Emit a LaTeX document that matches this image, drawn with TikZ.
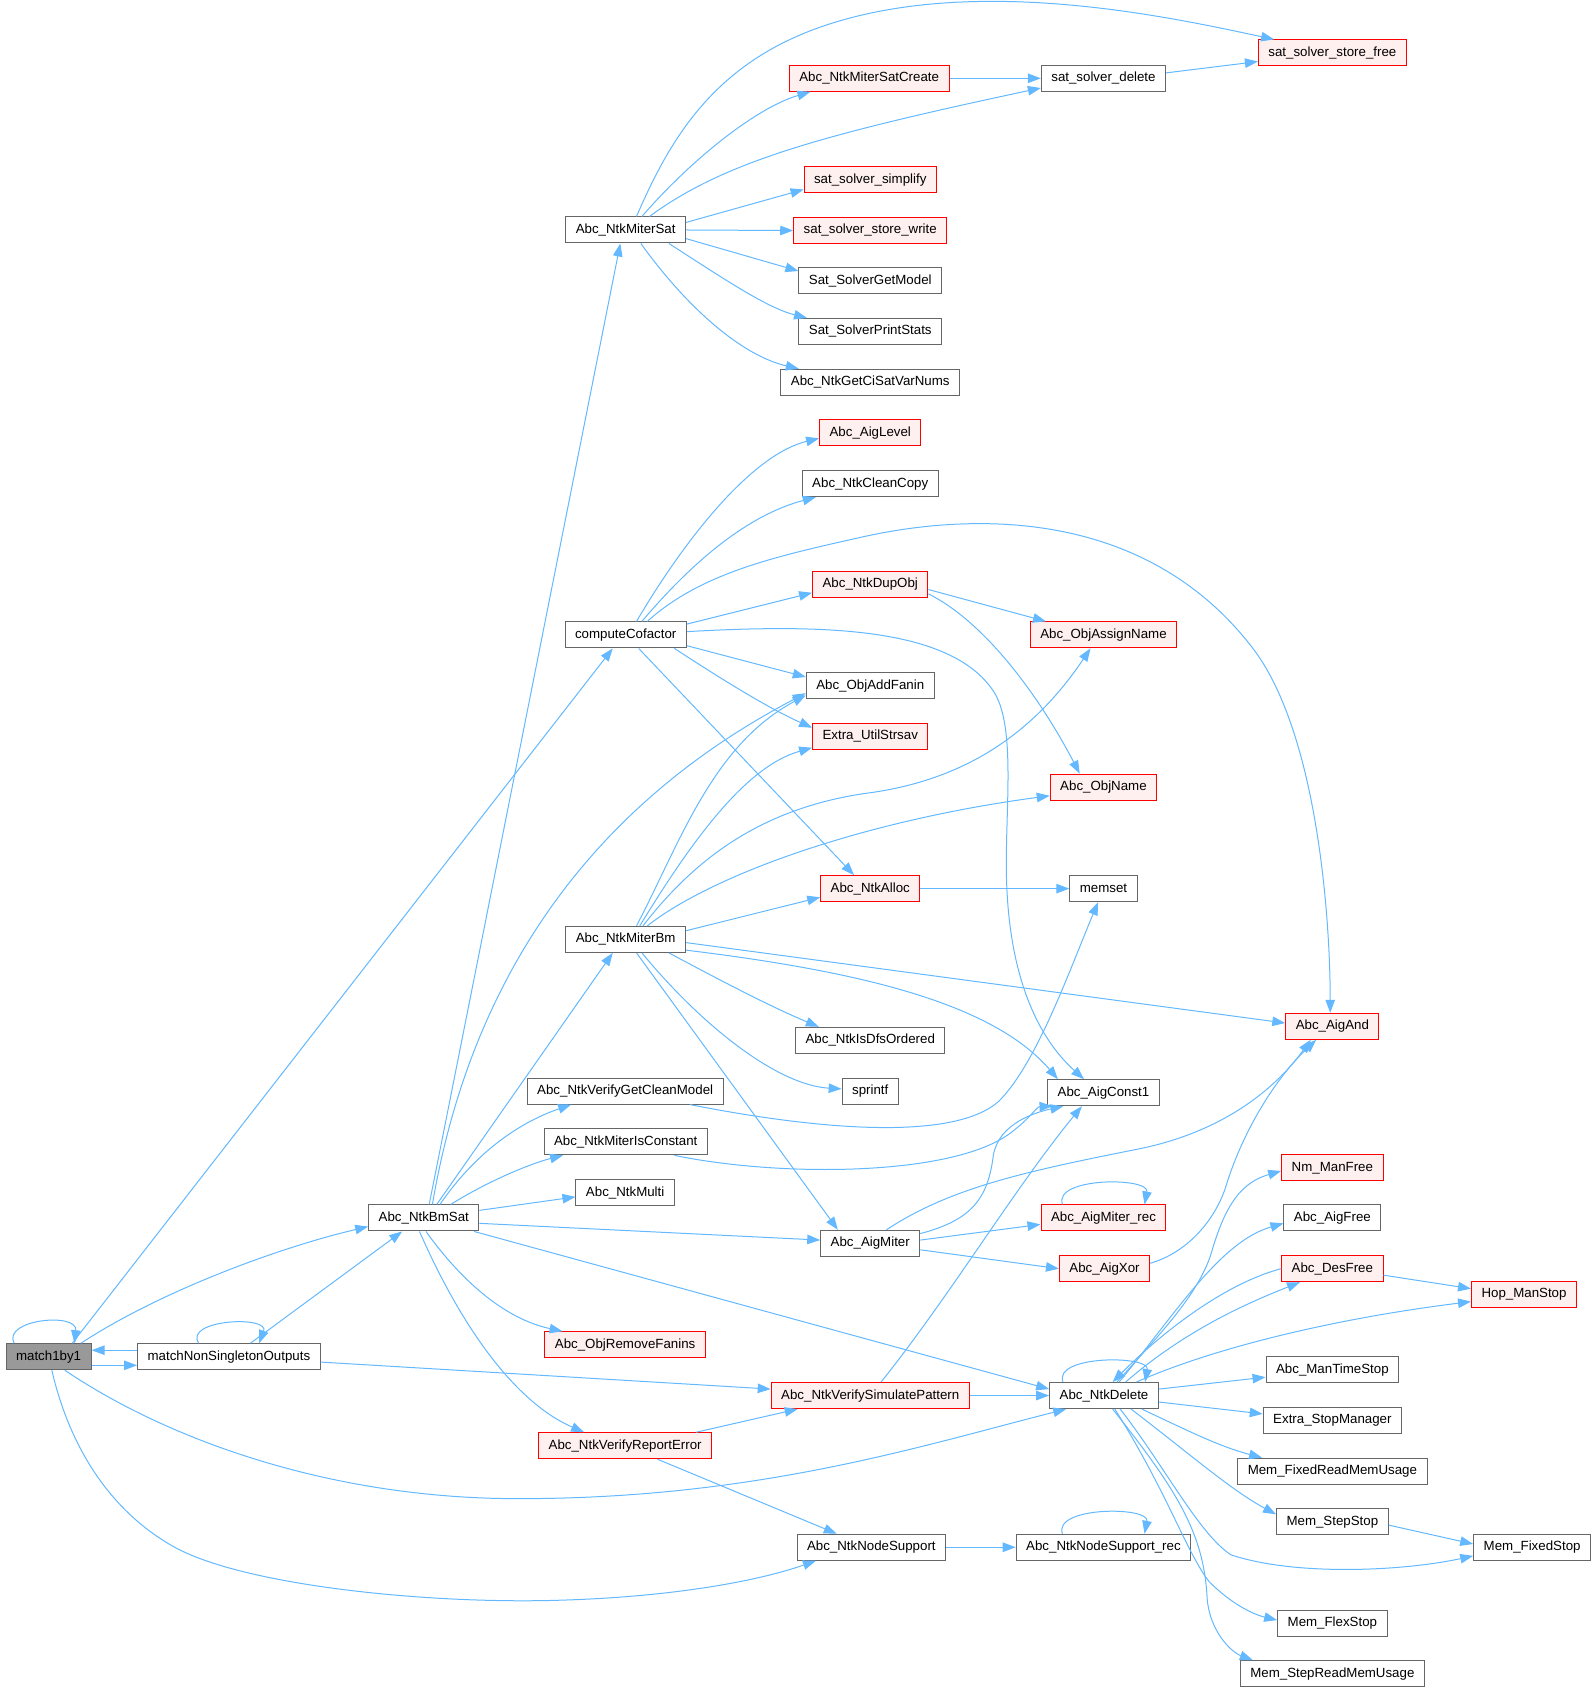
\documentclass[tikz,border=0pt]{standalone}
\usepackage{fontspec}
\setmainfont{Liberation Sans}
\usetikzlibrary{arrows.meta,calc}
\definecolor{edgeblue}{HTML}{63B8FF}
\definecolor{boxgray}{HTML}{666666}
\definecolor{redfill}{HTML}{FFF0F0}
\definecolor{selgray}{HTML}{999999}
\begin{document}
\begin{tikzpicture}[x=1.0798pt,y=-1.0798pt,
 gbox/.style={draw=boxgray, fill=white, line width=1pt, minimum height=26pt, inner xsep=10pt, inner ysep=0pt, text height=9.7pt, text depth=2.8pt, font=\fontsize{13.3}{16}\selectfont},
 rbox/.style={gbox, draw=red, fill=redfill},
 hbox/.style={gbox, fill=selgray},
 link/.style={draw=edgeblue, line width=1pt, -{Triangle[length=13pt,width=9.5pt]}},
]
\useasboundingbox (0,0) rectangle (1478,1568);
% nodes
\node[hbox] (m1) at (45,1256.5) {match1by1};
\node[gbox] (mns) at (212,1256.5) {matchNonSingletonOutputs};
\node[gbox] (bms) at (392.5,1128) {Abc\_NtkBmSat};
\node[gbox] (ms) at (579.5,213) {Abc\_NtkMiterSat};
\node[gbox] (cc) at (579.5,588) {computeCofactor};
\node[gbox] (mbm) at (579.5,870) {Abc\_NtkMiterBm};
\node[gbox] (vgcm) at (579,1010.5) {Abc\_NtkVerifyGetCleanModel};
\node[gbox] (mic) at (579.5,1057.5) {Abc\_NtkMiterIsConstant};
\node[gbox] (mul) at (579,1104.5) {Abc\_NtkMulti};
\node[rbox] (orf) at (579,1245.5) {Abc\_ObjRemoveFanins};
\node[rbox] (vre) at (579,1339) {Abc\_NtkVerifyReportError};
\node[rbox] (msc) at (805,72.5) {Abc\_NtkMiterSatCreate};
\node[rbox] (sss) at (806,166.5) {sat\_solver\_simplify};
\node[rbox] (ssw) at (806,213.5) {sat\_solver\_store\_write};
\node[gbox] (sgm) at (806,260) {Sat\_SolverGetModel};
\node[gbox] (sps) at (806,307) {Sat\_SolverPrintStats};
\node[gbox] (gcs) at (806,354) {Abc\_NtkGetCiSatVarNums};
\node[rbox] (al) at (806,401) {Abc\_AigLevel};
\node[gbox] (ncc) at (806,448) {Abc\_NtkCleanCopy};
\node[rbox] (ndo) at (806,541) {Abc\_NtkDupObj};
\node[gbox] (oaf) at (806,635) {Abc\_ObjAddFanin};
\node[rbox] (eus) at (806,682) {Extra\_UtilStrsav};
\node[rbox] (na) at (806,823) {Abc\_NtkAlloc};
\node[gbox] (ido) at (806,963.5) {Abc\_NtkIsDfsOrdered};
\node[gbox] (spr) at (806,1010.5) {sprintf};
\node[gbox] (am) at (806,1151.5) {Abc\_AigMiter};
\node[rbox] (vsp) at (806,1292.5) {Abc\_NtkVerifySimulatePattern};
\node[gbox] (ns) at (807,1433) {Abc\_NtkNodeSupport};
\node[gbox] (ssd) at (1022,72.5) {sat\_solver\_delete};
\node[rbox] (oan) at (1022,588) {Abc\_ObjAssignName};
\node[rbox] (on) at (1022,729) {Abc\_ObjName};
\node[gbox] (mem) at (1022,823) {memset};
\node[gbox] (ac1) at (1022,1012) {Abc\_AigConst1};
\node[rbox] (amr) at (1022,1128) {Abc\_AigMiter\_rec};
\node[rbox] (ax) at (1023,1175) {Abc\_AigXor};
\node[gbox] (nd) at (1022.5,1292.5) {Abc\_NtkDelete};
\node[gbox] (nsr) at (1022,1433) {Abc\_NtkNodeSupport\_rec};
\node[rbox] (ssf) at (1234,49) {sat\_solver\_store\_free};
\node[rbox] (aa) at (1234,950.5) {Abc\_AigAnd};
\node[rbox] (nmf) at (1234,1081.5) {Nm\_ManFree};
\node[gbox] (af) at (1234,1128) {Abc\_AigFree};
\node[rbox] (df) at (1234,1175) {Abc\_DesFree};
\node[gbox] (mts) at (1234,1268.5) {Abc\_ManTimeStop};
\node[gbox] (esm) at (1234,1315.5) {Extra\_StopManager};
\node[gbox] (mfr) at (1234,1362.5) {Mem\_FixedReadMemUsage};
\node[gbox] (mss) at (1234,1409.5) {Mem\_StepStop};
\node[gbox] (mfl) at (1234,1503.5) {Mem\_FlexStop};
\node[gbox] (msr) at (1234,1550) {Mem\_StepReadMemUsage};
\node[rbox] (hms) at (1411.5,1198.5) {Hop\_ManStop};
\node[gbox] (mfs) at (1419,1433) {Mem\_FixedStop};
% match1by1
\draw[link] ($(m1.north)+(-32,0)$) .. controls (2,1222) and (72,1215) .. ($(m1.north)+(24,0)$);
\draw[link] ($(mns.west)+(0,-6)$) -- ($(m1.east)+(0,-6)$);
\draw[link] ($(m1.east)+(0,8)$) -- ($(mns.west)+(0,8)$);
\draw[link] ($(m1.north)+(22,0)$) -- ($(cc.south)+(-12,0)$);
\draw[link] ($(m1.north)+(30,0)$) .. controls (150,1195) and (260,1155) .. ($(bms.west)+(0,8)$);
\draw[link] ($(m1.south)+(15,0)$) .. controls (150,1330) and (300,1388) .. (480,1388) .. controls (700,1388) and (850,1340) .. ($(nd.south)+(-35,0)$);
\draw[link] ($(m1.south)+(3,0)$) .. controls (62,1330) and (95,1395) .. (160,1432) .. controls (225,1469) and (400,1486) .. (520,1482) .. controls (620,1479) and (700,1465) .. ($(ns.south west)+(18,0)$);
% matchNonSingletonOutputs
\draw[link] ($(mns.north)+(-28,0)$) .. controls (170,1222) and (250,1218) .. ($(mns.north)+(28,0)$);
\draw[link] ($(mns.north)+(20,0)$) -- ($(bms.south)+(-20,0)$);
\draw[link] ($(mns.east)+(0,5)$) -- ($(vsp.west)+(0,-6)$);
% Abc_NtkBmSat
\draw[link] ($(bms.north)+(5,0)$) -- ($(ms.south)+(-5,0)$);
\draw[link] ($(bms.north)+(8,0)$) .. controls (430,940) and (520,760) .. ($(oaf.west)+(0,7)$);
\draw[link] ($(bms.north)+(12,0)$) -- ($(mbm.south)+(-12,0)$);
\draw[link] ($(bms.north)+(15,0)$) .. controls (440,1068) and (480,1040) .. ($(vgcm.south)+(-50,0)$);
\draw[link] ($(bms.north)+(25,0)$) .. controls (450,1095) and (490,1078) .. ($(mic.south)+(-58,0)$);
\draw[link] ($(bms.east)+(0,-7)$) -- ($(mul.west)+(0,4)$);
\draw[link] ($(bms.east)+(0,5)$) -- ($(am.west)+(0,-3)$);
\draw[link] ($(bms.south east)+(-5,0)$) -- ($(nd.west)+(0,-6)$);
\draw[link] ($(bms.south)+(2,0)$) .. controls (430,1190) and (470,1222) .. ($(orf.north)+(-58,0)$);
\draw[link] ($(bms.south)+(-4,0)$) .. controls (430,1235) and (480,1300) .. ($(vre.north)+(-38,0)$);
% Abc_NtkMiterSat
\draw[link] ($(ms.north)+(10,0)$) .. controls (620,130) and (660,60) .. (760,25) .. controls (900,-24) and (1080,15) .. ($(ssf.north west)+(15,0)$);
\draw[link] ($(ms.north)+(15,0)$) .. controls (640,148) and (700,100) .. ($(msc.south west)+(20,0)$);
\draw[link] ($(ms.north)+(22,0)$) .. controls (670,150) and (760,125) .. ($(ssd.west)+(0,9)$);
\draw[link] ($(ms.east)+(0,-7)$) -- ($(sss.west)+(0,9)$);
\draw[link] (ms.east) -- (ssw.west);
\draw[link] ($(ms.east)+(0,8)$) -- ($(sgm.west)+(0,-9)$);
\draw[link] ($(ms.south)+(40,0)$) .. controls (670,258) and (710,285) .. ($(sps.north west)+(8,0)$);
\draw[link] ($(ms.south)+(14,0)$) .. controls (640,290) and (690,330) .. ($(gcs.north west)+(17,0)$);
\draw[link] (msc.east) -- (ssd.west);
\draw[link] ($(ssd.east)+(0,-5)$) -- ($(ssf.west)+(0,8)$);
% computeCofactor
\draw[link] ($(cc.north)+(10,0)$) .. controls (640,490) and (700,420) .. ($(al.west)+(0,5)$);
\draw[link] ($(cc.north)+(15,0)$) .. controls (650,510) and (700,475) .. ($(ncc.south west)+(13,0)$);
\draw[link] ($(cc.north)+(20,0)$) .. controls (650,530) and (720,515) .. (800,497) .. controls (900,475) and (1060,470) .. (1160,600) .. controls (1220,678) and (1232,850) .. ($(aa.north)+(-2,0)$);
\draw[link] ($(cc.east)+(0,-10)$) -- ($(ndo.west)+(0,8)$);
\draw[link] ($(cc.east)+(0,-3)$) .. controls (760,578) and (880,580) .. (920,640) .. controls (940,670) and (932,740) .. (932,800) .. controls (932,900) and (960,960) .. ($(ac1.north)+(-18,0)$);
\draw[link] ($(cc.east)+(0,10)$) -- ($(oaf.west)+(0,-8)$);
\draw[link] ($(cc.south)+(45,0)$) .. controls (670,630) and (710,655) .. ($(eus.west)+(0,-8)$);
\draw[link] ($(cc.south)+(12,0)$) -- ($(na.north)+(-15,0)$);
% DupObj, Alloc
\draw[link] ($(ndo.east)+(0,5)$) -- ($(oan.north west)+(15,0)$);
\draw[link] ($(ndo.east)+(0,9)$) .. controls (910,575) and (960,640) .. ($(on.north)+(-22,0)$);
\draw[link] (na.east) -- (mem.west);
% Abc_NtkMiterBm
\draw[link] ($(mbm.north)+(10,0)$) .. controls (630,780) and (660,690) .. ($(oaf.west)+(0,9)$);
\draw[link] ($(mbm.north)+(13,0)$) .. controls (640,780) and (690,710) .. ($(eus.south west)+(0,-2)$);
\draw[link] ($(mbm.north)+(16,0)$) .. controls (640,800) and (700,750) .. (800,735) .. controls (880,725) and (950,690) .. ($(oan.south)+(-12,0)$);
\draw[link] ($(mbm.north)+(20,0)$) .. controls (660,810) and (800,760) .. ($(on.west)+(0,8)$);
\draw[link] ($(mbm.east)+(0,-8)$) -- ($(na.west)+(0,8)$);
\draw[link] ($(mbm.east)+(0,3)$) -- ($(aa.west)+(0,-3)$);
\draw[link] ($(mbm.east)+(0,10)$) .. controls (800,900) and (920,930) .. ($(ac1.north west)+(10,0)$);
\draw[link] ($(mbm.south)+(40,0)$) .. controls (680,915) and (720,935) .. ($(ido.north west)+(22,0)$);
\draw[link] ($(mbm.south)+(15,0)$) .. controls (650,950) and (720,1005) .. ($(spr.west)+(0,-2)$);
\draw[link] ($(mbm.south)+(10,0)$) -- ($(am.north)+(-30,0)$);
% CleanModel, IsConstant
\draw[link] ($(vgcm.south)+(60,0)$) .. controls (740,1043) and (880,1060) .. (925,1020) .. controls (960,985) and (990,900) .. ($(mem.south)+(-5,0)$);
\draw[link] ($(mic.south)+(45,0)$) .. controls (720,1090) and (880,1090) .. (935,1050) .. controls (955,1035) and (960,1025) .. ($(ac1.south west)+(5,0)$);
% Abc_AigMiter
\draw[link] ($(am.north)+(15,0)$) .. controls (880,1100) and (950,1085) .. (1050,1065) .. controls (1130,1050) and (1180,1010) .. ($(aa.south)+(-20,0)$);
\draw[link] ($(am.east)+(0,-9)$) .. controls (900,1130) and (915,1110) .. (920,1070) .. controls (925,1040) and (960,1030) .. ($(ac1.south west)+(15,0)$);
\draw[link] ($(am.east)+(0,-3)$) -- ($(amr.west)+(0,6)$);
\draw[link] ($(am.east)+(0,6)$) -- (ax.west);
\draw[link] ($(amr.north)+(-38,0)$) .. controls (975,1090) and (1065,1090) .. ($(amr.north)+(38,0)$);
\draw[link] ($(ax.east)+(0,-5)$) .. controls (1100,1160) and (1125,1130) .. (1135,1100) .. controls (1150,1050) and (1180,1000) .. ($(aa.south)+(-15,0)$);
% Verify
\draw[link] ($(vsp.north)+(10,0)$) .. controls (880,1200) and (940,1100) .. ($(ac1.south)+(-20,0)$);
\draw[link] (vsp.east) -- (nd.west);
\draw[link] ($(vre.north east)+(-15,0)$) -- ($(vsp.south west)+(25,0)$);
\draw[link] ($(vre.south)+(30,0)$) -- ($(ns.north)+(-32,0)$);
\draw[link] (ns.east) -- (nsr.west);
\draw[link] ($(nsr.north)+(-38,0)$) .. controls (975,1395) and (1065,1395) .. ($(nsr.north)+(38,0)$);
% Abc_NtkDelete
\draw[link] ($(nd.north)+(-38,0)$) .. controls (975,1255) and (1065,1255) .. ($(nd.north)+(38,0)$);
\draw[link] ($(nd.north)+(12,0)$) .. controls (1070,1240) and (1110,1200) .. (1122,1160) .. controls (1135,1115) and (1150,1095) .. ($(nmf.west)+(0,3)$);
\draw[link] ($(nd.north)+(14,0)$) .. controls (1090,1215) and (1130,1150) .. ($(af.west)+(0,5)$);
\draw[link] (df.west) .. controls (1130,1190) and (1070,1240) .. ($(nd.north)+(8,0)$);
\draw[link] ($(nd.north)+(20,0)$) .. controls (1100,1230) and (1160,1205) .. ($(df.south)+(-30,0)$);
\draw[link] ($(nd.north)+(30,0)$) .. controls (1120,1250) and (1230,1222) .. ($(hms.west)+(0,7)$);
\draw[link] ($(df.east)+(0,6)$) -- ($(hms.west)+(0,-5)$);
\draw[link] ($(nd.east)+(0,-6)$) -- ($(mts.west)+(0,7)$);
\draw[link] ($(nd.east)+(0,6)$) -- ($(esm.west)+(0,-6)$);
\draw[link] ($(nd.south)+(35,0)$) .. controls (1100,1325) and (1130,1340) .. ($(mfr.north west)+(23,0)$);
\draw[link] ($(nd.south)+(25,0)$) .. controls (1100,1345) and (1140,1380) .. ($(mss.west)+(0,-7)$);
\draw[link] ($(nd.south)+(15,0)$) .. controls (1080,1360) and (1110,1420) .. (1140,1440) .. controls (1200,1460) and (1300,1455) .. ($(mfs.west)+(0,8)$);
\draw[link] ($(nd.south)+(10,0)$) .. controls (1080,1380) and (1100,1440) .. (1120,1465) .. controls (1140,1485) and (1160,1495) .. ($(mfl.west)+(0,-3)$);
\draw[link] ($(nd.south)+(8,0)$) .. controls (1090,1380) and (1115,1420) .. (1118,1480) .. controls (1120,1510) and (1140,1530) .. ($(msr.north west)+(12,0)$);
\draw[link] ($(mss.east)+(0,3)$) -- ($(mfs.west)+(0,-3)$);
\end{tikzpicture}
\end{document}
